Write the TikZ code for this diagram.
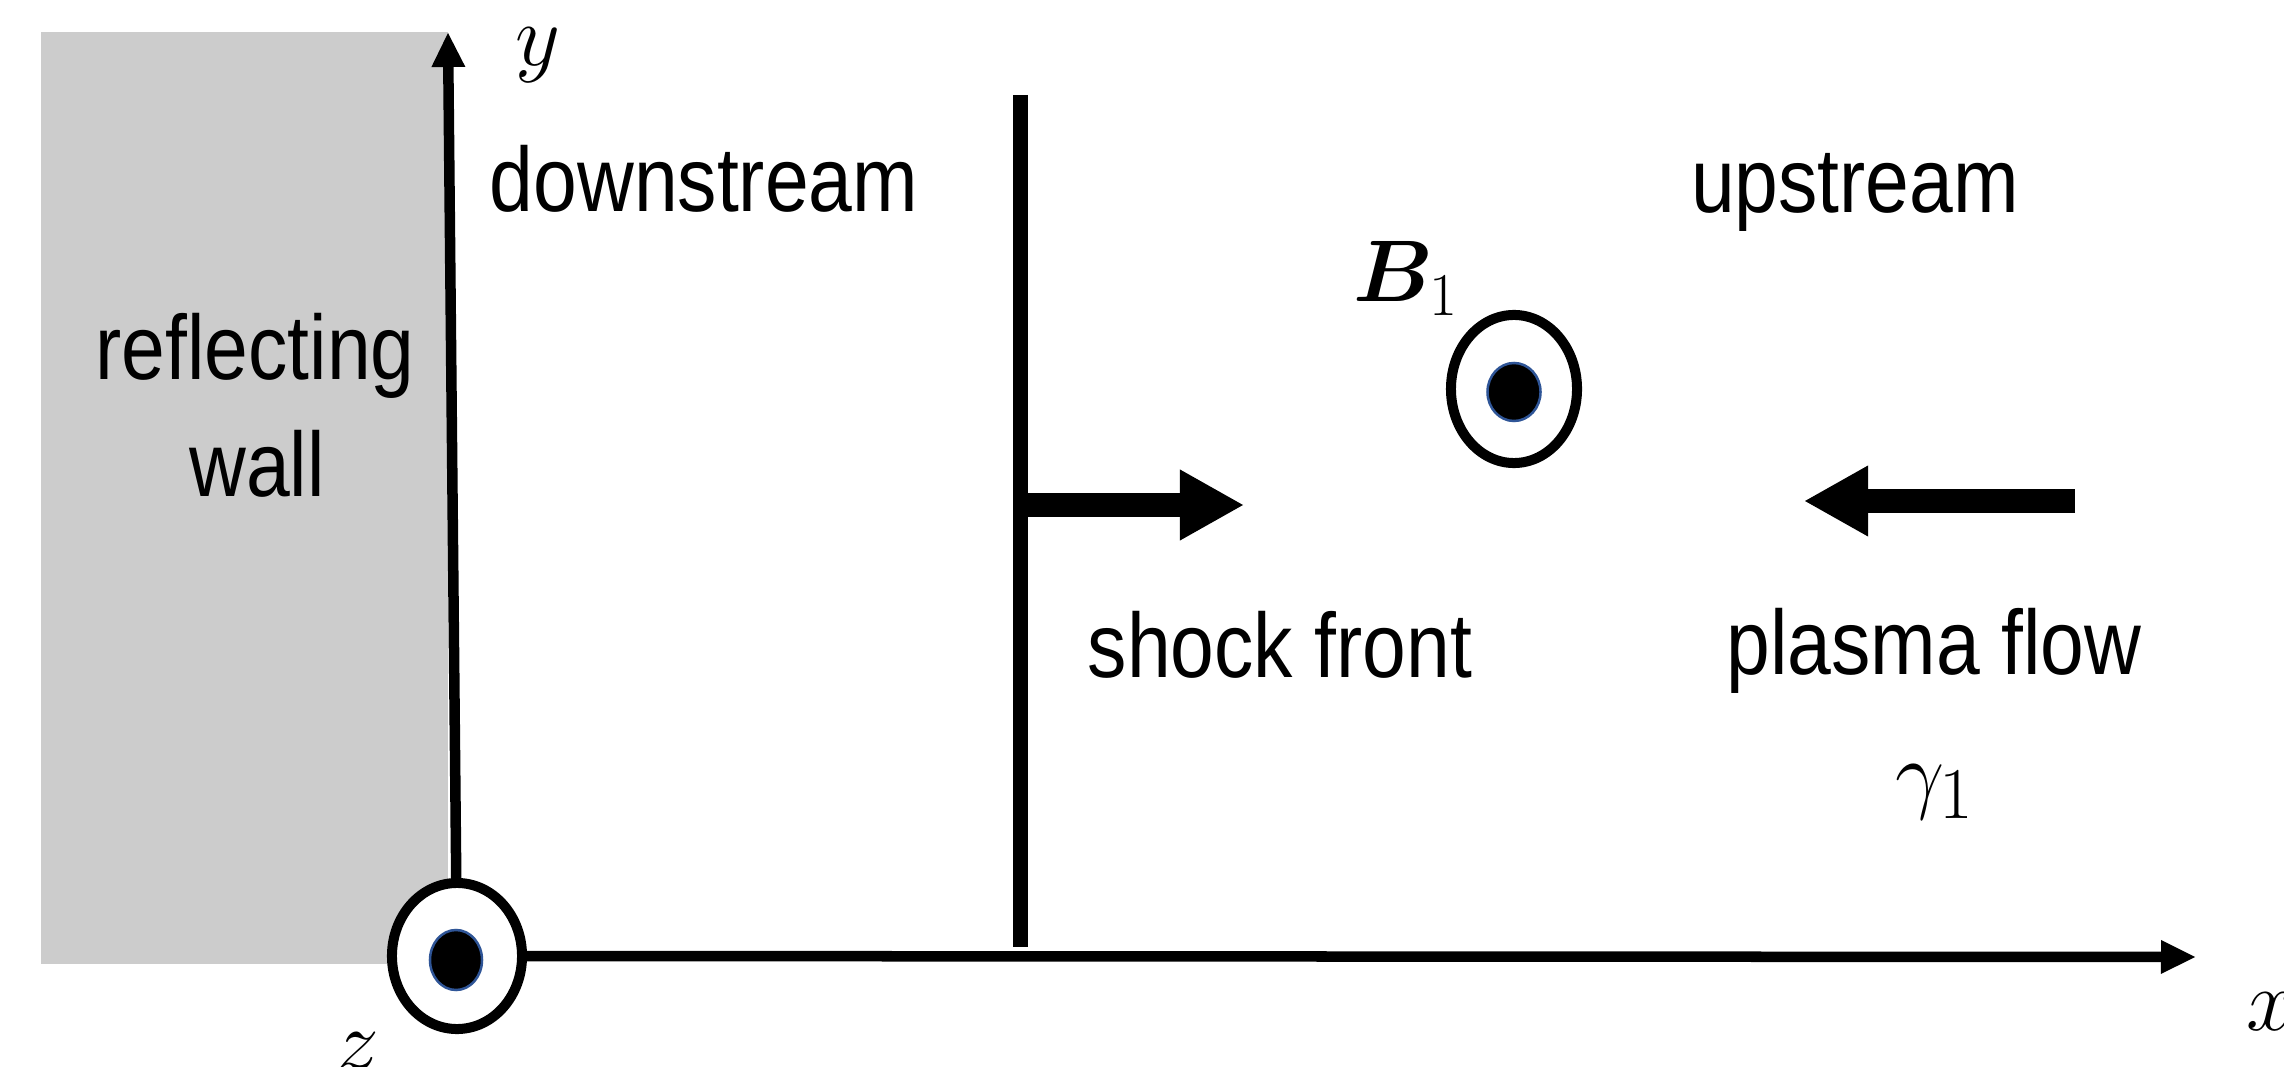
\documentclass[tikz,border=0pt]{standalone}
\usepackage{fontspec}
\setmainfont{Liberation Sans}[FakeStretch=0.86]
\usepackage{bm}
\usetikzlibrary{arrows.meta,shapes.geometric}

\definecolor{wallgray}{RGB}{204,204,204}
\definecolor{dotblue}{RGB}{47,85,151}

\begin{document}
\begin{tikzpicture}[
    x=0.01cm, y=-0.01cm,
    font=\fontsize{26}{31}\selectfont,
    ring/.style={draw, ellipse, line width=.1cm, fill=white, inner sep=0, minimum width=1.3cm, minimum height=1.46cm},
    dot/.style={draw=dotblue, ellipse, line width=.025cm, fill=black, inner sep=0, minimum width=.52cm, minimum height=.6cm},
    txt/.style={inner sep=0, anchor=base},
    sym/.style={inner sep=0, anchor=base west, font=\fontsize{29}{35}\selectfont},
    axis/.style={-{Triangle[length=.34cm, width=.34cm, line width=0pt]}, line width=.105cm},
    flow/.style={-{Triangle[length=.63cm, width=.71cm, line width=0pt]}, line width=.23cm}
  ]
    \useasboundingbox (0,0) rectangle (2284,1067);
    \fill[wallgray] (41,32) rectangle (448,964);

    \node[ring] (origin) at (457,956) {};
    \node[dot] (origindot) at (456,960) {};
    \node[ring, minimum width=1.26cm, minimum height=1.48cm] (bring) at (1514,389) {};
    \node[dot, minimum width=.53cm, minimum height=.58cm] (bdot) at (1514,392) {};

    \coordinate (ytip) at (448,33);
    \coordinate (xtip) at (2195,957);
    \draw[axis] (origin) -- (ytip);
    \draw[axis] (origin) -- (xtip);

    \coordinate (shocktop) at (1020,95);
    \coordinate (shockbot) at (1020,947);
    \draw[line width=.15cm] (shocktop) -- (shockbot);
    \coordinate (shockmid) at (1020,505);
    \coordinate (shockhead) at (1243,505);
    \draw[flow] (shockmid) -- (shockhead);
    \coordinate (flowtail) at (2075,501);
    \coordinate (flowhead) at (1805,501);
    \draw[flow] (flowtail) -- (flowhead);

    \node[txt] (down) at (704,212) {downstream};
    \node[txt] (up) at (1855,213) {upstream};
    \node[txt] (refl) at (255,380) {reflecting};
    \node[txt] (wall) at (257,497) {wall};
    \node[txt] (shock) at (1280,678) {shock front};
    \node[txt] (plasma) at (1934,675) {plasma flow};
    \node[sym, anchor=base] (gamma) at (1935,802) {$\gamma_1$};
    \node[txt, anchor=base west] (blabel) at (1353,302) {$\bm{B}_1$};
    \node[sym] (ylabel) at (515,66) {$y$};
    \node[sym] (xlabel) at (2246,1030) {$x$};
    \node[sym] (zlabel) at (335,1070) {$z$};
  \end{tikzpicture}
\end{document}
